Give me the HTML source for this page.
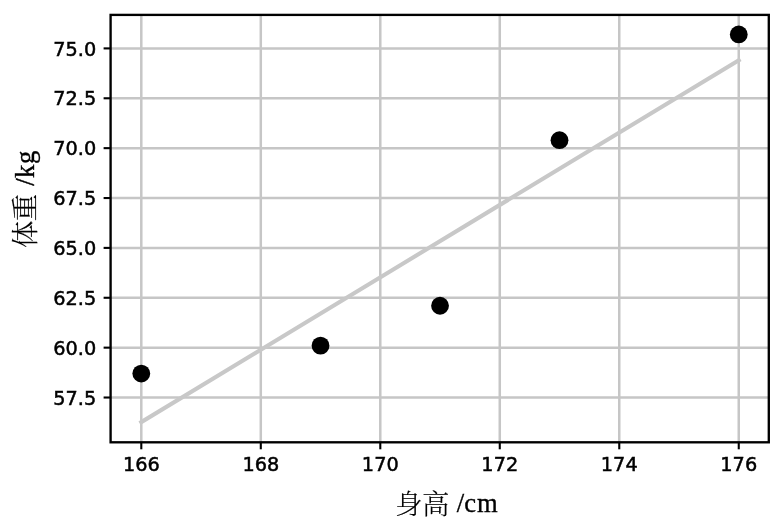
<!DOCTYPE html>
<html lang="zh-CN"><head><meta charset="utf-8"><title>身高 /cm — 体重 /kg</title>
<style>html,body{margin:0;padding:0;background:#fff;overflow:hidden}svg{display:block}.t{font-family:"DejaVu Sans","Liberation Sans",sans-serif;font-size:19.30px;fill:#000;stroke:#000;stroke-width:0.5px}.l{font-family:"Liberation Serif","Noto Serif CJK SC",serif;font-size:26.60px;fill:#000;font-weight:400;stroke:#000;stroke-width:0.35px}.c{font-family:"Liberation Serif","Noto Serif CJK SC",serif;font-weight:300;fill:#000;stroke:#000;stroke-width:0.15px;letter-spacing:-0.6px}</style></head><body>
<svg width="784" height="521" viewBox="0 0 784 521">
<rect width="784" height="521" fill="#fff"/>
<g stroke="#c6c6c6" stroke-width="2.50" fill="none">
<line x1="141.30" y1="14.90" x2="141.30" y2="442.30"/>
<line x1="260.79" y1="14.90" x2="260.79" y2="442.30"/>
<line x1="380.28" y1="14.90" x2="380.28" y2="442.30"/>
<line x1="499.77" y1="14.90" x2="499.77" y2="442.30"/>
<line x1="619.26" y1="14.90" x2="619.26" y2="442.30"/>
<line x1="738.75" y1="14.90" x2="738.75" y2="442.30"/>
<line x1="110.60" y1="397.52" x2="768.80" y2="397.52"/>
<line x1="110.60" y1="347.65" x2="768.80" y2="347.65"/>
<line x1="110.60" y1="297.77" x2="768.80" y2="297.77"/>
<line x1="110.60" y1="247.90" x2="768.80" y2="247.90"/>
<line x1="110.60" y1="198.03" x2="768.80" y2="198.03"/>
<line x1="110.60" y1="148.15" x2="768.80" y2="148.15"/>
<line x1="110.60" y1="98.28" x2="768.80" y2="98.28"/>
<line x1="110.60" y1="48.40" x2="768.80" y2="48.40"/>
</g>
<line x1="141.30" y1="422.10" x2="738.75" y2="60.20" stroke="#c8c8c8" stroke-width="4.1" stroke-linecap="square"/>
<circle cx="141.30" cy="373.58" r="8.9" fill="#000"/>
<circle cx="320.53" cy="345.65" r="8.9" fill="#000"/>
<circle cx="440.02" cy="305.75" r="8.9" fill="#000"/>
<circle cx="559.51" cy="140.17" r="8.9" fill="#000"/>
<circle cx="738.75" cy="34.43" r="8.9" fill="#000"/>
<g stroke="#000" stroke-width="2.10">
<line x1="141.30" y1="442.30" x2="141.30" y2="449.30"/>
<line x1="260.79" y1="442.30" x2="260.79" y2="449.30"/>
<line x1="380.28" y1="442.30" x2="380.28" y2="449.30"/>
<line x1="499.77" y1="442.30" x2="499.77" y2="449.30"/>
<line x1="619.26" y1="442.30" x2="619.26" y2="449.30"/>
<line x1="738.75" y1="442.30" x2="738.75" y2="449.30"/>
<line x1="103.60" y1="397.52" x2="110.60" y2="397.52"/>
<line x1="103.60" y1="347.65" x2="110.60" y2="347.65"/>
<line x1="103.60" y1="297.77" x2="110.60" y2="297.77"/>
<line x1="103.60" y1="247.90" x2="110.60" y2="247.90"/>
<line x1="103.60" y1="198.03" x2="110.60" y2="198.03"/>
<line x1="103.60" y1="148.15" x2="110.60" y2="148.15"/>
<line x1="103.60" y1="98.28" x2="110.60" y2="98.28"/>
<line x1="103.60" y1="48.40" x2="110.60" y2="48.40"/>
</g>
<rect x="110.60" y="14.90" width="658.20" height="427.40" fill="none" stroke="#000" stroke-width="2.35"/>
<text class="t" x="141.30" y="470.5" text-anchor="middle">166</text>
<text class="t" x="260.79" y="470.5" text-anchor="middle">168</text>
<text class="t" x="380.28" y="470.5" text-anchor="middle">170</text>
<text class="t" x="499.77" y="470.5" text-anchor="middle">172</text>
<text class="t" x="619.26" y="470.5" text-anchor="middle">174</text>
<text class="t" x="738.75" y="470.5" text-anchor="middle">176</text>
<text class="t" x="96.2" y="404.62" text-anchor="end">57.5</text>
<text class="t" x="96.2" y="354.75" text-anchor="end">60.0</text>
<text class="t" x="96.2" y="304.88" text-anchor="end">62.5</text>
<text class="t" x="96.2" y="255.00" text-anchor="end">65.0</text>
<text class="t" x="96.2" y="205.12" text-anchor="end">67.5</text>
<text class="t" x="96.2" y="155.25" text-anchor="end">70.0</text>
<text class="t" x="96.2" y="105.38" text-anchor="end">72.5</text>
<text class="t" x="96.2" y="55.50" text-anchor="end">75.0</text>
<text class="c" x="395.2" y="514.3" font-size="27.40">身高</text>
<text class="l" x="456.85" y="511.6">/</text>
<text class="l" x="464.25" y="511.6" letter-spacing="0.9">cm</text>
<g transform="translate(34.0,0) rotate(-90)">
<text class="c" x="-248.1" y="0.8" font-size="27.40">体重</text>
<text class="l" x="-185.75" y="0">/</text>
<text class="l" x="-177.9" y="0" letter-spacing="0.6">kg</text>
</g>
</svg></body></html>
